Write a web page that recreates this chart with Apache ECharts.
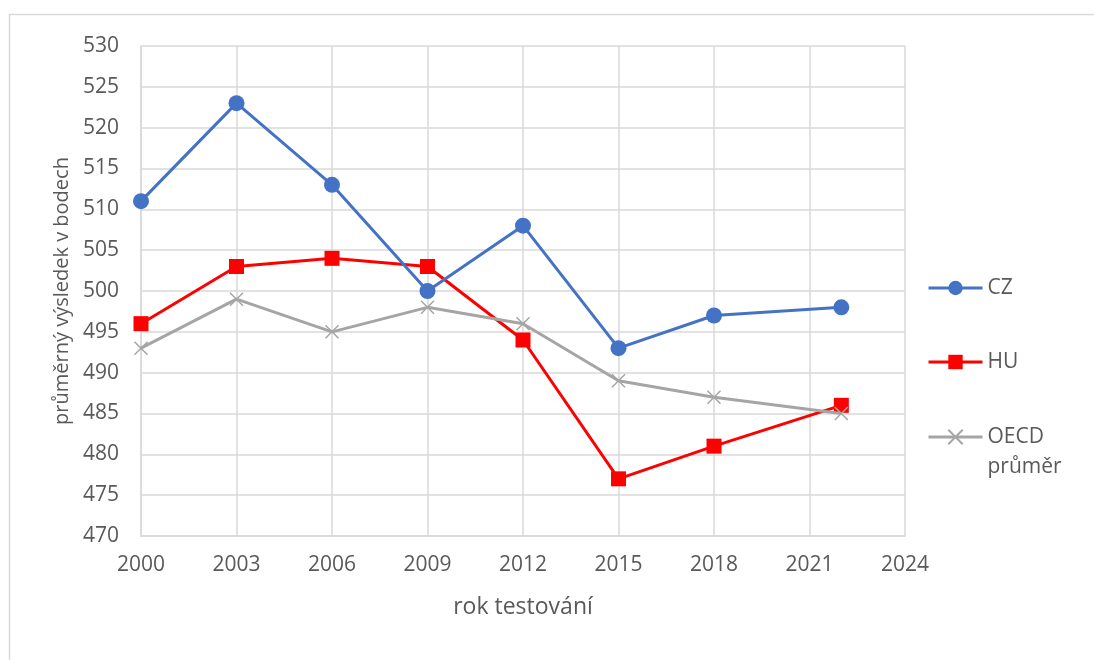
<!DOCTYPE html>
<html>
<head>
<meta charset="utf-8">
<script src="https://cdn.jsdelivr.net/npm/echarts@6/dist/echarts.min.js"></script>
<style>
  html, body { margin: 0; padding: 0; background: #fff; }
  #chart { width: 1094px; height: 660px; }
</style>
</head>
<body>
<div id="chart"></div>
<script>
// Test years and mean scores
const years = [2000, 2003, 2006, 2009, 2012, 2015, 2018, 2022];
const cz = [511, 523, 513, 500, 508, 493, 497, 498];
const hu = [496, 503, 504, 503, 494, 477, 481, 486];
const oecd = [493, 499, 495, 498, 496, 489, 487, 485];
const seriesNames = ['CZ', 'HU', 'OECD průměr'];

// x axis counted in years after the base year so ticks fall on 2000, 2003, ...
const BASE_YEAR = 2000;
const toPoints = vals => vals.map((v, i) => [years[i] - BASE_YEAR, v]);

const FONT = '"Open Sans", "Noto Sans", sans-serif';
const TEXT = '#595959';
const GRID = '#d9d9d9';

const crossPath = 'path://M0,0L10,10M10,0L0,10';

const chart = echarts.init(document.getElementById('chart'), null, { renderer: 'canvas' });

const legendText = { color: TEXT, fontFamily: FONT, fontSize: 21, lineHeight: 30 };
const legendBase = {
  orient: 'vertical',
  left: 927,
  padding: 0,
  itemWidth: 54,
  itemHeight: 18,
  itemGap: 0,
  lineStyle: { width: 3 },
  textStyle: legendText
};

chart.setOption({
  animation: false,
  backgroundColor: '#fff',
  textStyle: { fontFamily: FONT },
  graphic: [{
    type: 'rect',
    left: 7, top: 12,
    shape: { width: 1200, height: 800 },
    style: { fill: 'none', stroke: GRID, lineWidth: 1.5 },
    silent: true
  }],
  grid: { left: 141, right: 189, top: 46, bottom: 124, containLabel: false },
  legend: [
    Object.assign({}, legendBase, { top: 273, data: [seriesNames[0]] }),
    Object.assign({}, legendBase, { top: 347, data: [seriesNames[1]] }),
    // blank first line keeps "OECD" level with the icon and "průměr" below it
    Object.assign({}, legendBase, {
      top: 392,
      data: [seriesNames[2]],
      formatter: () => '\nOECD\nprůměr'
    })
  ],
  xAxis: {
    type: 'value',
    min: 0, max: 24, interval: 3,
    name: 'rok testování',
    nameLocation: 'middle',
    nameGap: 60,
    nameTextStyle: { color: TEXT, fontSize: 23, fontFamily: FONT },
    axisLine: { show: true, lineStyle: { color: GRID, width: 1.5 } },
    axisTick: { show: false },
    axisLabel: { color: TEXT, fontSize: 21, fontFamily: FONT, margin: 19, formatter: v => String(BASE_YEAR + v) },
    splitLine: { show: true, lineStyle: { color: GRID, width: 1.5 } }
  },
  yAxis: {
    type: 'value',
    min: 470, max: 530, interval: 5,
    name: 'průměrný výsledek v bodech',
    nameLocation: 'middle',
    nameGap: 66,
    nameTextStyle: { color: TEXT, fontSize: 20, fontFamily: FONT },
    axisLine: { show: true, lineStyle: { color: GRID, width: 1.5 } },
    axisTick: { show: false },
    axisLabel: { color: TEXT, fontSize: 21, fontFamily: FONT, margin: 22 },
    splitLine: { show: true, lineStyle: { color: GRID, width: 1.5 } }
  },
  series: [
    {
      name: seriesNames[0], type: 'line', data: toPoints(cz),
      symbol: 'circle', symbolSize: 16,
      lineStyle: { color: '#4472C4', width: 3 },
      itemStyle: { color: '#4472C4' },
      z: 4
    },
    {
      name: seriesNames[1], type: 'line', data: toPoints(hu),
      symbol: 'rect', symbolSize: 15,
      lineStyle: { color: '#FF0000', width: 3 },
      itemStyle: { color: '#FF0000' },
      z: 3
    },
    {
      name: seriesNames[2], type: 'line', data: toPoints(oecd),
      symbol: crossPath, symbolSize: 13,
      lineStyle: { color: '#A5A5A5', width: 3 },
      itemStyle: { color: 'none', borderColor: '#A5A5A5', borderWidth: 1.5 },
      z: 5
    }
  ]
});
</script>
</body>
</html>
